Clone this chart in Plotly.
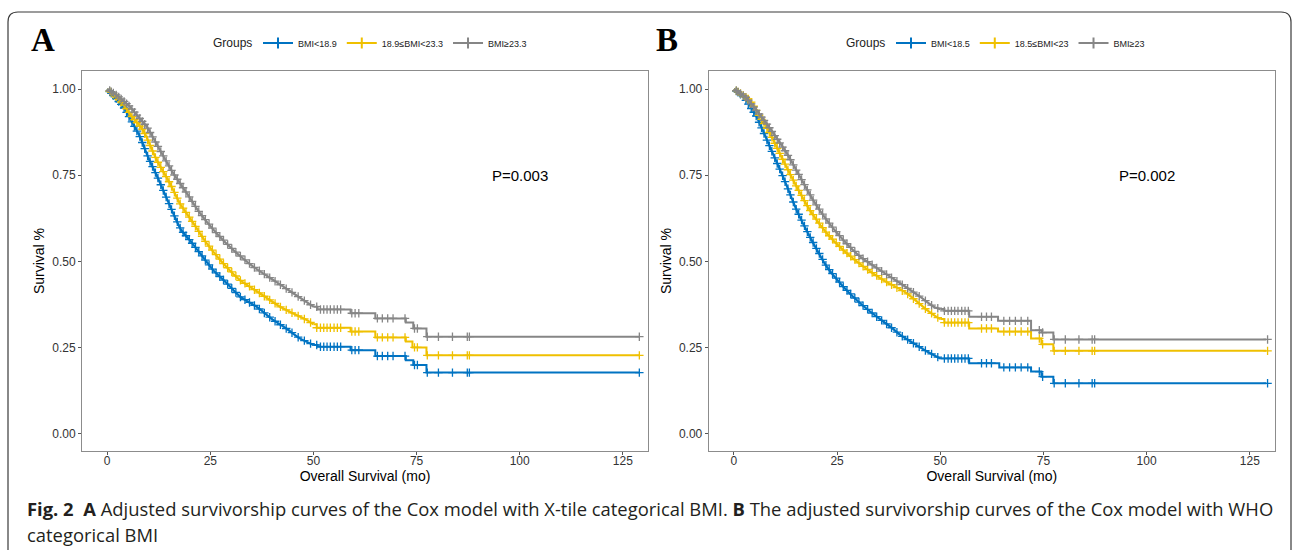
import plotly.graph_objects as go

# ---------------- data ----------------
groups_A = ["BMI<18.9", "18.9≤BMI<23.3", "BMI≥23.3"]
groups_B = ["BMI<18.5", "18.5≤BMI<23", "BMI≥23"]
colors = ["#0073C2", "#EFC000", "#868686"]

# Panel A (X-tile BMI) adjusted survival curves: time (months), survival
A_blue_t = [0, 2, 4, 6, 8, 10, 12, 14, 16, 18, 20, 22.5, 25.7, 29, 32.2, 36.2, 40.3, 43.5, 46.7, 50, 51, 59, 65, 72.4, 74.2, 77.4, 129]
A_blue_s = [1.0, 0.975, 0.947, 0.905, 0.86, 0.80, 0.75, 0.695, 0.64, 0.59, 0.562, 0.524, 0.475, 0.437, 0.398, 0.369, 0.33, 0.305, 0.277, 0.258, 0.253, 0.243, 0.226, 0.214, 0.200, 0.178, 0.178]
A_yel_t = [0, 2, 4, 6, 8.7, 12, 15.2, 17.6, 20.9, 24.1, 28.1, 32.2, 37, 41.9, 45, 48.4, 50, 50.8, 59, 65, 72.4, 74, 77.4, 129]
A_yel_s = [1.0, 0.98, 0.955, 0.92, 0.881, 0.794, 0.727, 0.669, 0.611, 0.553, 0.495, 0.446, 0.408, 0.369, 0.35, 0.33, 0.318, 0.308, 0.297, 0.280, 0.268, 0.251, 0.228, 0.228]
A_gray_t = [0, 2, 4, 5.5, 7.5, 9.6, 12.8, 16, 19.3, 22.5, 26.5, 30.6, 35.4, 40.3, 45.1, 50, 51, 59, 65, 72.4, 74.2, 77.4, 129]
A_gray_s = [1.0, 0.985, 0.965, 0.949, 0.92, 0.891, 0.823, 0.756, 0.698, 0.640, 0.582, 0.533, 0.485, 0.446, 0.408, 0.369, 0.361, 0.350, 0.335, 0.323, 0.306, 0.282, 0.282]

# Panel B (WHO BMI)
B_blue_t = [0, 2.3, 5.5, 8.7, 11.9, 15.2, 18.4, 22.5, 26.5, 30.6, 34.6, 37.9, 40.3, 43.5, 46.8, 50, 57, 64.3, 72, 74.5, 77.4, 129]
B_blue_s = [1.0, 0.978, 0.92, 0.833, 0.746, 0.649, 0.572, 0.485, 0.427, 0.379, 0.340, 0.311, 0.287, 0.263, 0.239, 0.219, 0.205, 0.193, 0.181, 0.166, 0.147, 0.147]
B_yel_t = [0, 3.9, 8.7, 11.9, 15.2, 18.4, 22.5, 26.5, 31.4, 36.2, 41.9, 46.8, 49, 50, 51, 57, 64, 72, 74.5, 77.4, 129]
B_yel_s = [1.0, 0.968, 0.872, 0.794, 0.717, 0.649, 0.582, 0.533, 0.485, 0.446, 0.408, 0.359, 0.34, 0.333, 0.323, 0.306, 0.297, 0.277, 0.26, 0.241, 0.241]
B_gray_t = [0, 3, 7.9, 12.8, 16, 19.2, 22.5, 26.5, 30.6, 35.4, 40.3, 45.1, 48.4, 50, 51, 57, 64, 72, 74.5, 77.4, 129]
B_gray_s = [1.0, 0.975, 0.90, 0.814, 0.746, 0.678, 0.62, 0.562, 0.514, 0.475, 0.437, 0.398, 0.369, 0.362, 0.357, 0.340, 0.328, 0.301, 0.294, 0.274, 0.274]

# censoring times (months)
censor_A = [0.6, 1, 1.5, 2.2, 2.8, 3.4, 4.1, 4.7, 5.3, 6, 6.6, 7.2, 7.9, 8.5, 9.1, 9.8, 10.4, 11, 11.7, 12.3, 13,
            13.6, 14.3, 15, 15.6, 16.3, 17, 17.7, 18.4, 19.1, 19.9, 20.6, 21.4, 22.2, 23, 23.8, 24.7, 25.5,
            26.4, 27.3, 28.2, 29.2, 30.2, 31.2, 32.3, 33.4, 34.5, 35.7, 36.9, 38.1, 39.4, 40.7, 42, 43.4,
            44.8, 46.3, 47.8, 49.3, 50.8, 51.7, 52.5, 53.3, 54.1, 55, 55.8, 56.6, 59.3, 60.1, 61, 65.5, 66.7,
            68, 69.3, 72.2, 74.5, 75.2, 77.6, 80.3, 83.7, 87.3, 87.8, 129]
censor_B = [0.6, 1, 1.6, 2.3, 2.9, 3.5, 4.2, 4.8, 5.4, 6.1, 6.7, 7.3, 8, 8.6, 9.2, 9.9, 10.5, 11.1, 11.8, 12.4,
            13.1, 13.7, 14.4, 15.1, 15.7, 16.4, 17.1, 17.8, 18.5, 19.2, 20, 20.7, 21.5, 22.3, 23.1, 23.9,
            24.8, 25.6, 26.5, 27.4, 28.3, 29.3, 30.3, 31.3, 32.4, 33.5, 34.6, 35.8, 37, 38.2, 39.5, 40.8,
            42.1, 43.5, 44.9, 46.4, 47.9, 49.4, 51, 51.9, 52.7, 53.5, 54.3, 55.2, 56, 56.8, 60, 61.2, 62.4,
            65.4, 66.8, 68.2, 69.6, 71.2, 74, 74.8, 77.6, 80.3, 83.6, 86.8, 87.4, 129.3]

p_A = "P=0.003"
p_B = "P=0.002"
x_ticks = [0, 25, 50, 75, 100, 125]
y_ticks = [0, 0.25, 0.5, 0.75, 1.0]
y_tick_text = ["0.00", "0.25", "0.50", "0.75", "1.00"]

# ---------------- figure ----------------
W, H = 1293, 550
STEP_FROM = 50  # curves are drawn as visible steps from this month on


def px_x(v):
    return v / W


def px_y(v):
    return 1 - v / H


def curve_at(ts, ss, t):
    """value of the drawn curve at time t (linear before STEP_FROM, step after)."""
    for i in range(len(ts) - 1):
        a, b = ts[i], ts[i + 1]
        if a <= t < b:
            if b <= STEP_FROM:
                return ss[i] + (ss[i + 1] - ss[i]) * (t - a) / (b - a)
            return ss[i]
    return ss[-1]


FONT = "Liberation Sans, Arial, sans-serif"
fig = go.Figure()

panels = [
    ("x", "y", "legend", groups_A,
     [(A_blue_t, A_blue_s), (A_yel_t, A_yel_s), (A_gray_t, A_gray_s)], censor_A),
    ("x2", "y2", "legend2", groups_B,
     [(B_blue_t, B_blue_s), (B_yel_t, B_yel_s), (B_gray_t, B_gray_s)], censor_B),
]

for xa, ya, leg, names, curves, cens in panels:
    for (ts, ss), name, col in zip(curves, names, colors):
        early = [(t, s) for t, s in zip(ts, ss) if t <= STEP_FROM]
        late = [(t, s) for t, s in zip(ts, ss) if t >= STEP_FROM]
        fig.add_trace(go.Scatter(
            x=[p[0] for p in early], y=[p[1] for p in early], mode="lines",
            line=dict(color=col, width=2.2, shape="spline", smoothing=0.6),
            xaxis=xa, yaxis=ya, showlegend=False, hoverinfo="skip"))
        fig.add_trace(go.Scatter(
            x=[p[0] for p in late], y=[p[1] for p in late], mode="lines",
            line=dict(color=col, width=2, shape="hv"),
            xaxis=xa, yaxis=ya, showlegend=False, hoverinfo="skip"))
        ct = [c for c in cens if c <= ts[-1] + 0.5]
        cy = [curve_at(ts, ss, c) for c in ct]
        fig.add_trace(go.Scatter(
            x=ct, y=cy, mode="markers",
            marker=dict(symbol="cross-thin-open", size=6, color=col, line=dict(color=col, width=1.3)),
            xaxis=xa, yaxis=ya, showlegend=False, hoverinfo="skip"))
    for name, col in zip(names, colors):
        fig.add_trace(go.Scatter(
            x=[None], y=[None], mode="lines+markers", name=name,
            line=dict(color=col, width=2),
            marker=dict(symbol="line-ns-open", size=8, color=col, line=dict(color=col, width=2)),
            xaxis=xa, yaxis=ya, legend=leg, showlegend=True))

xdomA = [px_x(82), px_x(648)]
xdomB = [px_x(708.7), px_x(1275)]
ydom = [px_y(451), px_y(71)]
xrange_ = [-6.1, 131.1]
yrange_ = [-0.0493, 1.0522]

axis_common = dict(showgrid=False, zeroline=False, showline=True, mirror=True,
                   linecolor="#8c8c8c", linewidth=1, ticks="outside", ticklen=3,
                   tickcolor="#555555", tickwidth=1,
                   tickfont=dict(family=FONT, size=12, color="#333333"))

for xa, dom, anchor in [("xaxis", xdomA, "y"), ("xaxis2", xdomB, "y2")]:
    fig.layout[xa] = dict(domain=dom, anchor=anchor, range=xrange_, tickvals=x_ticks,
                          ticklabelstandoff=-4,
                          title=dict(text="Overall Survival (mo)", standoff=0,
                                     font=dict(family=FONT, size=14, color="#000000")),
                          **axis_common)
for ya, anchor in [("yaxis", "x"), ("yaxis2", "x2")]:
    fig.layout[ya] = dict(domain=ydom, anchor=anchor, range=yrange_, tickvals=y_ticks,
                          ticktext=y_tick_text,
                          title=dict(text="Survival %", standoff=4,
                                     font=dict(family=FONT, size=14, color="#000000")),
                          **axis_common)

legend_common = dict(orientation="h", yanchor="middle", xanchor="left",
                     bgcolor="rgba(0,0,0,0)", itemwidth=30, tracegroupgap=0,
                     font=dict(family=FONT, size=9, color="#222222"))
fig.update_layout(
    legend=dict(x=px_x(258), y=px_y(43), **legend_common),
    legend2=dict(x=px_x(891), y=px_y(43), **legend_common),
)

annotations = [
    dict(text=p_A, x=100, y=0.75, xref="x", yref="y", showarrow=False,
         font=dict(family=FONT, size=15, color="#000000")),
    dict(text=p_B, x=100, y=0.75, xref="x2", yref="y2", showarrow=False,
         font=dict(family=FONT, size=15, color="#000000")),
    dict(text="Groups", x=px_x(254), y=px_y(43), xref="paper", yref="paper",
         xanchor="right", yanchor="middle", showarrow=False,
         font=dict(family=FONT, size=12, color="#222222")),
    dict(text="Groups", x=px_x(887), y=px_y(43), xref="paper", yref="paper",
         xanchor="right", yanchor="middle", showarrow=False,
         font=dict(family=FONT, size=12, color="#222222")),
    dict(text="<b>A</b>", x=px_x(43), y=px_y(40), xref="paper", yref="paper", showarrow=False,
         xanchor="center", yanchor="middle",
         font=dict(family="Liberation Serif, Times New Roman, serif", size=33, color="#000000")),
    dict(text="<b>B</b>", x=px_x(667), y=px_y(40), xref="paper", yref="paper", showarrow=False,
         xanchor="center", yanchor="middle",
         font=dict(family="Liberation Serif, Times New Roman, serif", size=33, color="#000000")),
    dict(text="<b>Fig. 2</b>  <b>A</b> Adjusted survivorship curves of the Cox model with X-tile categorical BMI. "
              "<b>B</b> The adjusted survivorship curves of the Cox model with WHO",
         x=px_x(25), y=px_y(508), xref="paper", yref="paper", xanchor="left", yanchor="middle",
         showarrow=False, align="left",
         font=dict(family="Open Sans, sans-serif", size=18.4, color="#231f20")),
    dict(text="categorical BMI",
         x=px_x(25), y=px_y(534), xref="paper", yref="paper", xanchor="left", yanchor="middle",
         showarrow=False, align="left",
         font=dict(family="Open Sans, sans-serif", size=18.4, color="#231f20")),
]

# rounded outer frame
r = 10
L, T, R, B = 8, 12, 1291, 552
path = (f"M {px_x(L)} {px_y(B)} L {px_x(L)} {px_y(T + r)} "
        f"Q {px_x(L)} {px_y(T)} {px_x(L + r)} {px_y(T)} "
        f"L {px_x(R - r)} {px_y(T)} Q {px_x(R)} {px_y(T)} {px_x(R)} {px_y(T + r)} "
        f"L {px_x(R)} {px_y(B)}")
shapes = [dict(type="path", path=path, xref="paper", yref="paper",
               line=dict(color="#3a3a3a", width=1.2))]

fig.update_layout(
    width=W, height=H, margin=dict(l=0, r=0, t=0, b=0),
    paper_bgcolor="white", plot_bgcolor="white",
    annotations=annotations, shapes=shapes,
    font=dict(family=FONT),
)

fig.write_html("out.html")
